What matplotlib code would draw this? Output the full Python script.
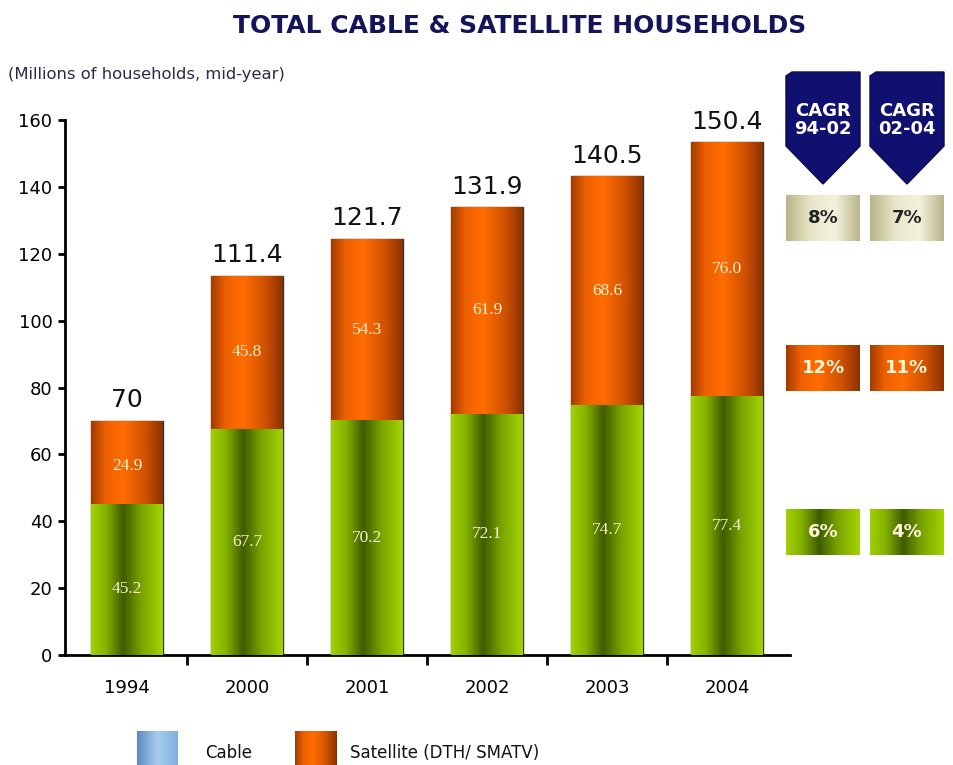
import numpy as np
import matplotlib
matplotlib.use("Agg")
import matplotlib.pyplot as plt
from matplotlib.colors import LinearSegmentedColormap
from matplotlib.patches import Polygon

# Data
years = ["1994", "2000", "2001", "2002", "2003", "2004"]
cable = [45.2, 67.7, 70.2, 72.1, 74.7, 77.4]
satellite = [24.9, 45.8, 54.3, 61.9, 68.6, 76.0]
totals_text = ["70", "111.4", "121.7", "131.9", "140.5", "150.4"]
cagr_headers = ["CAGR\n94-02", "CAGR\n02-04"]
cagr_total = ["8%", "7%"]
cagr_satellite = ["12%", "11%"]
cagr_cable = ["6%", "4%"]

plt.rcParams['font.family'] = ['DejaVu Sans']

green_cmap = LinearSegmentedColormap.from_list(
    "green", [(0, "#a0d000"), (0.2, "#86b400"), (0.45, "#3f5c00"),
              (0.7, "#78a400"), (1, "#a4d400")])
orange_cmap = LinearSegmentedColormap.from_list(
    "orange", [(0, "#a03c00"), (0.2, "#ee6000"), (0.45, "#ff6c00"),
               (0.75, "#d05200"), (1, "#8a3200")])
gold_cmap = LinearSegmentedColormap.from_list(
    "gold", ["#b8b48a", "#e8e6c8", "#f4f2dc", "#b8b48a"])
blue_cmap = LinearSegmentedColormap.from_list(
    "blue", ["#5a8ac0", "#a8ccef", "#7fb0e0"])
gradient = np.linspace(0, 1, 256).reshape(1, -1)


def fill_gradient(ax, patch, cmap):
    # paint a horizontal gradient inside a bar
    x0, y0 = patch.get_x(), patch.get_y()
    w, h = patch.get_width(), patch.get_height()
    im = ax.imshow(gradient, cmap=cmap, aspect='auto',
                   extent=[x0, x0 + w, y0, y0 + h], zorder=patch.get_zorder())
    im.set_clip_path(patch)


fig = plt.figure(figsize=(9.54, 7.65), dpi=100)
ax = fig.add_axes([0.0681, 0.1438, 0.760, 0.6993])

x = np.arange(len(years))
bars_c = ax.bar(x, cable, width=0.6, color="none", edgecolor="#333333",
                linewidth=1, zorder=3)
bars_s = ax.bar(x, satellite, width=0.6, bottom=cable, color="none",
                edgecolor="#333333", linewidth=1, zorder=3)
for p in bars_c:
    fill_gradient(ax, p, green_cmap)
for p in bars_s:
    fill_gradient(ax, p, orange_cmap)

for i in range(len(years)):
    ax.text(x[i], cable[i] / 2 - (3 if i == 0 else 0), f"{cable[i]:.1f}",
            ha="center", va="center", color="#f6f2cc", fontsize=12.5,
            family="Liberation Serif", zorder=5)
    ax.text(x[i], cable[i] + satellite[i] / 2 - (1 if i == 0 else 0),
            f"{satellite[i]:.1f}", ha="center", va="center", color="#f6f2cc",
            fontsize=12.5, family="Liberation Serif", zorder=5)
    ax.text(x[i], cable[i] + satellite[i] + 2.5, totals_text[i], ha="center",
            va="bottom", fontsize=18, color="#111111", zorder=5)

ax.set_xlim(-0.517, 5.525)
ax.set_ylim(0, 160)
ax.set_yticks(np.arange(0, 161, 20))
ax.set_xticks(x[:-1] + 0.5)
ax.set_xticklabels([])
ax.set_xticks(x, minor=True)
ax.set_xticklabels(years, minor=True)
ax.tick_params(axis="x", which="minor", length=0, pad=17, labelsize=13)
ax.tick_params(axis="x", which="major", length=7, width=2, direction="out")
ax.tick_params(axis="y", length=5, width=2, labelsize=13, pad=4)
for side in ["top", "right"]:
    ax.spines[side].set_visible(False)
ax.spines["left"].set_linewidth(2)
ax.spines["bottom"].set_linewidth(2)

fig.text(0.545, 0.966, "TOTAL CABLE & SATELLITE HOUSEHOLDS", ha="center",
         va="center", fontsize=18, fontweight="bold", color="#14145a")
fig.text(0.008, 0.903, "(Millions of households, mid-year)", ha="left",
         va="center", fontsize=11.8, color="#2a2a4a")

# CAGR panel drawn in pixel coordinates of the figure
W, H = 954, 765


def px(xp, yp):
    return (xp / W, 1 - yp / H)


def gbox(x0, y0, x1, y1, cmap, label, color):
    ax_b = fig.add_axes([x0 / W, 1 - y1 / H, (x1 - x0) / W, (y1 - y0) / H])
    ax_b.imshow(gradient, cmap=cmap, aspect="auto")
    ax_b.axis("off")
    if label:
        ax_b.text(0.5, 0.5, label, transform=ax_b.transAxes, ha="center",
                  va="center", fontsize=13, fontweight="bold", color=color)


col_x = [(786, 860), (870, 944)]
for j, (x0, x1) in enumerate(col_x):
    xm = (x0 + x1) / 2
    arrow = Polygon([px(x0, 76), px(x0 + 6, 72), px(x1, 72), px(x1, 146),
                     px(xm, 184), px(x0, 146)], closed=True,
                    transform=fig.transFigure, facecolor="#101070",
                    edgecolor="#0a0a50")
    fig.add_artist(arrow)
    fig.text(xm / W, 1 - 120 / H, cagr_headers[j], ha="center", va="center",
             fontsize=13, fontweight="bold", color="white", linespacing=1.0)
    gbox(x0, 195, x1, 241, gold_cmap, cagr_total[j], "#222222")
    gbox(x0, 345, x1, 391, orange_cmap, cagr_satellite[j], "#fff6dc")
    gbox(x0, 509, x1, 555, green_cmap, cagr_cable[j], "#fff6dc")

# legend at the bottom
gbox(137, 731, 178, 765, blue_cmap, "", "black")
fig.text(205 / W, 1 - 753 / H, "Cable", ha="left", va="center", fontsize=12,
         color="#111111")
gbox(295, 731, 336, 765, orange_cmap, "", "black")
fig.text(350 / W, 1 - 753 / H, "Satellite (DTH/ SMATV)", ha="left",
         va="center", fontsize=12, color="#111111")

fig.savefig("out.png", dpi=100)
